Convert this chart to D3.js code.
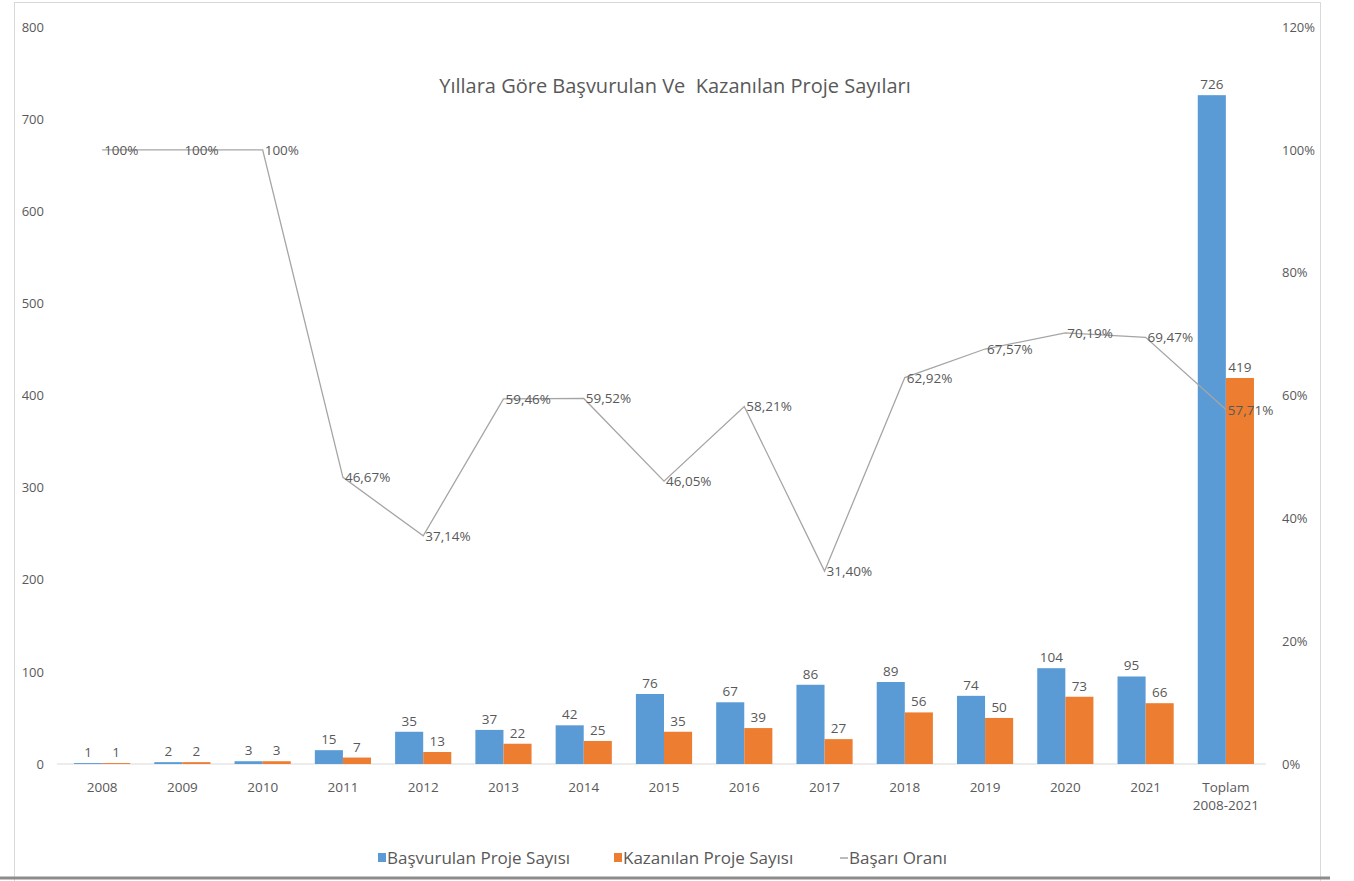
<!DOCTYPE html>
<html>
<head>
<meta charset="utf-8">
<script src="https://cdn.jsdelivr.net/npm/d3@7"></script>
<style>
  body { margin: 0; background: #fff; }
  text { font-family: "Open Sans", "Noto Sans", sans-serif; fill: #595959; }
</style>
</head>
<body>
<div id="chart"></div>
<script>
var years = ["2008", "2009", "2010", "2011", "2012", "2013", "2014", "2015", "2016", "2017", "2018", "2019", "2020", "2021", "Toplam 2008-2021"];
var basvurulan = [1, 2, 3, 15, 35, 37, 42, 76, 67, 86, 89, 74, 104, 95, 726];
var kazanilan = [1, 2, 3, 7, 13, 22, 25, 35, 39, 27, 56, 50, 73, 66, 419];
var basariOrani = [100, 100, 100, 46.67, 37.14, 59.46, 59.52, 46.05, 58.21, 31.40, 62.92, 67.57, 70.19, 69.47, 57.71];
var leftTicks = [0, 100, 200, 300, 400, 500, 600, 700, 800];
var rightTicks = [0, 20, 40, 60, 80, 100, 120];

var svgWidth = 1354;
var svgHeight = 881;

var margin = { top: 27, right: 88, bottom: 117, left: 62 };
var width = 1266 - margin.left;
var height = 764 - margin.top;

var svg = d3.select("#chart")
  .append("svg")
  .attr("width", svgWidth)
  .attr("height", svgHeight);

// chart frame
svg.append("rect")
  .attr("x", 14.5)
  .attr("y", 2.5)
  .attr("width", 1306)
  .attr("height", 900)
  .attr("fill", "none")
  .attr("stroke", "#d9d9d9");
svg.append("line")
  .attr("x1", 0).attr("x2", 1330)
  .attr("y1", 878).attr("y2", 878)
  .attr("stroke", "#8c8c8c")
  .attr("stroke-width", 3);

var chartGroup = svg.append("g")
  .attr("transform", `translate(${margin.left}, ${margin.top})`);

var x0 = d3.scaleBand()
  .domain(years)
  .range([0, width])
  .paddingInner(0.3)
  .paddingOuter(0.15);

var x1 = d3.scaleBand()
  .domain(["b", "k"])
  .range([0, x0.bandwidth()]);

var yLeft = d3.scaleLinear().domain([0, 800]).range([height, 0]);
var yRight = d3.scaleLinear().domain([0, 120]).range([height, 0]);

// axes
var leftAxis = d3.axisLeft(yLeft).tickValues(leftTicks).tickSize(0).tickPadding(0);
var rightAxis = d3.axisRight(yRight).tickValues(rightTicks).tickSize(0).tickPadding(0)
  .tickFormat(d => d + "%");

var yAxisL = chartGroup.append("g")
  .attr("transform", "translate(-18, 0)")
  .call(leftAxis);
yAxisL.select(".domain").remove();
yAxisL.selectAll("text").attr("font-size", "13px");

var yAxisR = chartGroup.append("g")
  .attr("transform", `translate(${1282 - margin.left}, 0)`)
  .call(rightAxis);
yAxisR.select(".domain").remove();
yAxisR.selectAll("text").attr("font-size", "13px");

chartGroup.append("line")
  .attr("x1", -5).attr("x2", width)
  .attr("y1", height).attr("y2", height)
  .attr("stroke", "#d9d9d9");

var bottomAxis = d3.axisBottom(x0).tickSize(0).tickPadding(0).tickFormat("");
var xAxis = chartGroup.append("g")
  .attr("transform", `translate(0, ${height})`)
  .call(bottomAxis);
xAxis.select(".domain").remove();
xAxis.selectAll(".tick").each(function(d) {
  var parts = d.split(" ");
  var t = d3.select(this).append("text")
    .attr("text-anchor", "middle")
    .attr("font-size", "13.5px")
    .attr("fill", "#595959");
  parts.forEach(function(p, i) {
    t.append("tspan").attr("x", 0).attr("y", 28 + i * 18).text(p);
  });
});

// bars
var groups = chartGroup.selectAll(".cat")
  .data(years)
  .enter()
  .append("g")
  .attr("transform", d => `translate(${x0(d)}, 0)`);

groups.append("rect")
  .attr("x", x1("b"))
  .attr("width", x1.bandwidth())
  .attr("y", (d, i) => yLeft(basvurulan[i]))
  .attr("height", (d, i) => height - yLeft(basvurulan[i]))
  .attr("fill", "#5b9bd5");

groups.append("rect")
  .attr("x", x1("k"))
  .attr("width", x1.bandwidth())
  .attr("y", (d, i) => yLeft(kazanilan[i]))
  .attr("height", (d, i) => height - yLeft(kazanilan[i]))
  .attr("fill", "#ed7d31");

groups.append("text")
  .attr("x", x1("b") + x1.bandwidth() / 2)
  .attr("y", (d, i) => yLeft(basvurulan[i]) - 6)
  .attr("text-anchor", "middle")
  .attr("font-size", "13.5px")
  .attr("fill", "#404040")
  .text((d, i) => basvurulan[i]);

groups.append("text")
  .attr("x", x1("k") + x1.bandwidth() / 2)
  .attr("y", (d, i) => yLeft(kazanilan[i]) - 6)
  .attr("text-anchor", "middle")
  .attr("font-size", "13.5px")
  .attr("fill", "#404040")
  .text((d, i) => kazanilan[i]);

// line
var cx = d => x0(d) + x0.bandwidth() / 2;
var line = d3.line()
  .x((d, i) => cx(years[i]))
  .y(d => yRight(d));

chartGroup.append("path")
  .datum(basariOrani)
  .attr("d", line)
  .attr("fill", "none")
  .attr("stroke", "#a5a5a5")
  .attr("stroke-width", 1.3);

chartGroup.selectAll(".rateLabel")
  .data(basariOrani)
  .enter()
  .append("text")
  .attr("x", (d, i) => cx(years[i]) + 2)
  .attr("y", d => yRight(d) + 5)
  .attr("font-size", "13.5px")
  .attr("fill", "#404040")
  .text(d => d === 100 ? "100%" : d.toFixed(2).replace(".", ",") + "%");

// title
svg.append("text")
  .attr("x", 675)
  .attr("y", 93)
  .attr("text-anchor", "middle")
  .attr("font-size", "20px")
  .style("white-space", "pre")
  .text("Yıllara Göre Başvurulan Ve  Kazanılan Proje Sayıları");

// legend
var legend = svg.append("g").attr("transform", "translate(378, 864)");
var legendItems = [
  { label: "Başvurulan Proje Sayısı", color: "#5b9bd5", type: "rect", x: 0 },
  { label: "Kazanılan Proje Sayısı", color: "#ed7d31", type: "rect", x: 236 },
  { label: "Başarı Oranı", color: "#a5a5a5", type: "line", x: 462 }
];
legendItems.forEach(function(it) {
  if (it.type === "rect") {
    legend.append("rect").attr("x", it.x).attr("y", -11).attr("width", 8).attr("height", 9).attr("fill", it.color);
  } else {
    legend.append("line").attr("x1", it.x).attr("x2", it.x + 8).attr("y1", -6).attr("y2", -6)
      .attr("stroke", it.color).attr("stroke-width", 1.5);
  }
  legend.append("text").attr("x", it.x + 9).attr("y", 0).attr("font-size", "17px").text(it.label);
});
</script>
</body>
</html>
